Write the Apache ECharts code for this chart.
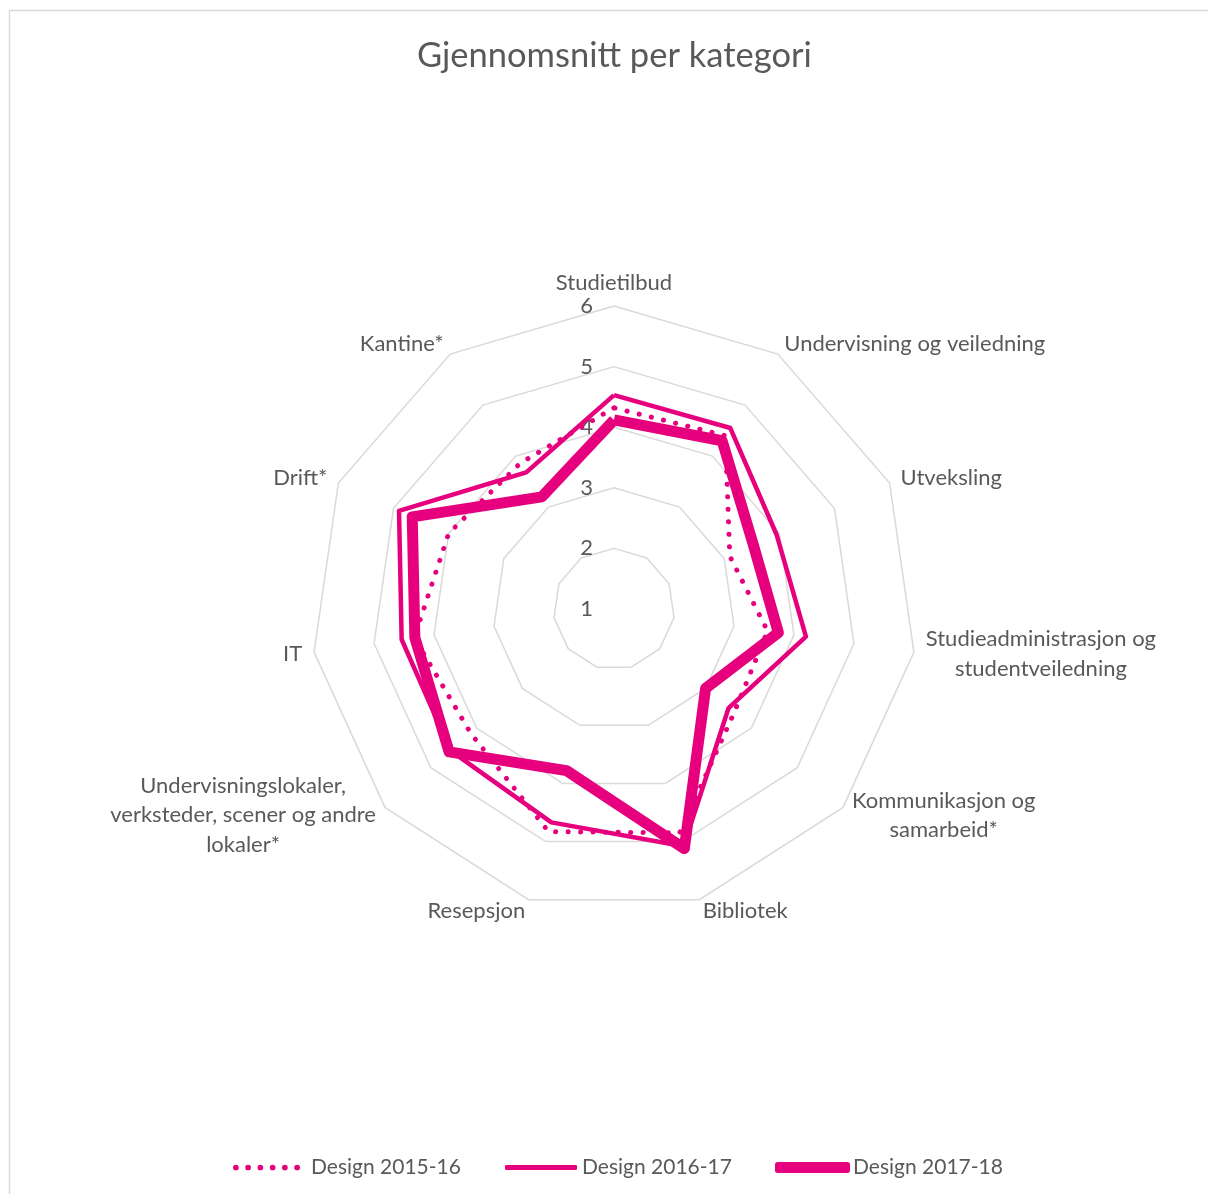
<!DOCTYPE html>
<html>
<head>
<meta charset="utf-8">
<title>Gjennomsnitt per kategori</title>
<script src="https://cdn.jsdelivr.net/npm/echarts@6/dist/echarts.min.js"></script>
<style>
  html, body { margin: 0; padding: 0; background: #fff; }
  #chart { width: 1208px; height: 1194px; }
</style>
</head>
<body>
<div id="chart"></div>
<script>
// categories, clockwise from the top
var categories = [
  'Studietilbud',
  'Undervisning og veiledning',
  'Utveksling',
  'Studieadministrasjon og\nstudentveiledning',
  'Kommunikasjon og\nsamarbeid*',
  'Bibliotek',
  'Resepsjon',
  'Undervisningslokaler,\nverksteder, scener og andre\nlokaler*',
  'IT',
  'Drift*',
  'Kantine*'
]
var seriesNames = ['Design 2015-16', 'Design 2016-17', 'Design 2017-18']
var design2015 = [4.32, 4.4, 3.1, 3.56, 3.62, 4.85, 4.83, 4.13, 4.33, 4.0, 3.86]
var design2016 = [4.53, 4.55, 3.95, 4.2, 3.5, 5.08, 4.67, 4.57, 4.54, 4.9, 3.68]
var design2017 = [4.12, 4.3, 3.53, 3.74, 3.0, 5.12, 3.78, 4.6, 4.32, 4.66, 3.2]
var scaleMin = 1
var scaleMax = 6

var pink = '#e6007e'
var textColor = '#595959'
var fontFamily = 'Lato, "Open Sans", sans-serif'

// echarts radar goes counter-clockwise, so walk the categories backwards
function ccw(arr) {
  return [arr[0]].concat(arr.slice(1).reverse())
}

var indicator = ccw(categories).map(function (name, i) {
  var ind = { name: name, min: scaleMin, max: scaleMax }
  if (i === 0) {
    ind.axisLabel = { show: true }
  }
  return ind
})

// dotted legend icon
var dots = ''
for (var k = 0; k < 6; k++) {
  var cx = 3 + k * 12.8
  dots += 'M' + (cx - 3) + ',3a3,3 0 1,0 6,0a3,3 0 1,0 -6,0z'
}

var chart = echarts.init(document.getElementById('chart'))
chart.setOption({
  backgroundColor: '#fff',
  textStyle: { fontFamily: fontFamily },
  title: {
    text: 'Gjennomsnitt per kategori',
    left: 412,
    top: 33,
    textStyle: { color: textColor, fontSize: 34.5, fontWeight: 'normal', fontFamily: fontFamily }
  },
  graphic: [{
    type: 'rect',
    shape: { x: 9.5, y: 10.5, width: 1400, height: 1400 },
    style: { fill: 'none', stroke: '#d9d9d9', lineWidth: 1.5 },
    silent: true
  }],
  legend: [{
    data: [seriesNames[0]],
    left: 228,
    top: 1152,
    icon: 'path://' + dots,
    itemWidth: 67,
    itemHeight: 6,
    textStyle: { color: textColor, fontSize: 21, padding: [0, 0, 0, 6] }
  }, {
    data: [seriesNames[1]],
    left: 500,
    top: 1152,
    icon: 'roundRect',
    itemWidth: 72,
    itemHeight: 5,
    textStyle: { color: textColor, fontSize: 21 }
  }, {
    data: [seriesNames[2]],
    left: 770,
    top: 1152,
    icon: 'roundRect',
    itemWidth: 75,
    itemHeight: 11,
    textStyle: { color: textColor, fontSize: 21, padding: [0, 0, 0, -2] }
  }],
  radar: {
    center: [614, 609],
    radius: 303,
    shape: 'polygon',
    splitNumber: 5,
    nameGap: 12,
    axisName: {
      color: textColor,
      fontSize: 22,
      fontFamily: fontFamily,
      formatter: function (name) {
        if (name.indexOf('\n') < 0) return name
        return name.split('\n').map(function (l) { return '{c|' + l + '}' }).join('\n')
      },
      rich: {
        c: { color: textColor, fontSize: 22, fontFamily: fontFamily, lineHeight: 29.5, align: 'center' }
      }
    },
    axisLine: { show: false },
    axisTick: { show: false },
    axisLabel: { show: false, color: textColor, fontSize: 22, margin: 21, fontFamily: fontFamily },
    splitArea: { show: false },
    splitLine: { lineStyle: { color: '#d9d9d9', width: 1.5 } },
    indicator: indicator
  },
  series: [{
    type: 'radar',
    symbol: 'none',
    data: [{
      name: seriesNames[0],
      value: ccw(design2015),
      itemStyle: { color: pink },
      lineStyle: { color: pink, width: 5, type: [0.1, 12.4], cap: 'round', join: 'round' }
    }, {
      name: seriesNames[1],
      value: ccw(design2016),
      itemStyle: { color: pink },
      lineStyle: { color: pink, width: 4.5, type: 'solid', join: 'round' }
    }, {
      name: seriesNames[2],
      value: ccw(design2017),
      itemStyle: { color: pink },
      lineStyle: { color: pink, width: 11, type: 'solid', join: 'round' }
    }]
  }]
})
</script>
</body>
</html>
